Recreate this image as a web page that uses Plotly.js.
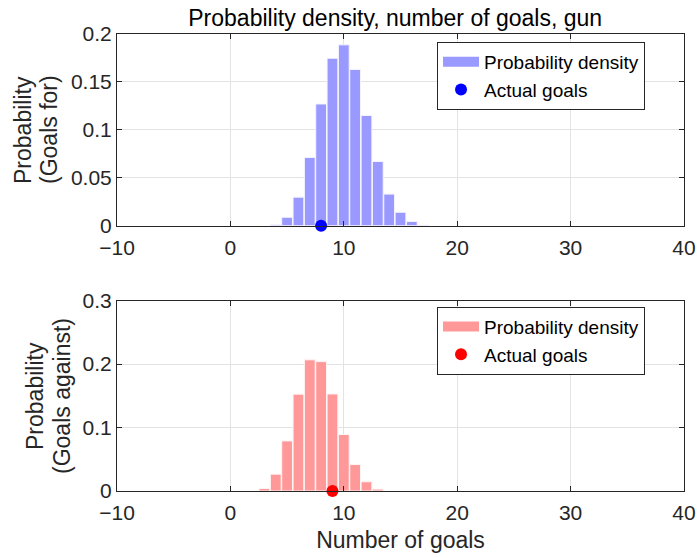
<!DOCTYPE html>
<html>
<head>
<meta charset="utf-8">
<script src="https://cdn.plot.ly/plotly-3.0.1.min.js"></script>
<style>html,body{margin:0;padding:0;background:#fff;}</style>
</head>
<body>
<div id="chart" style="width:697px;height:558px;"></div>
<script>
// Data
const goalsFor = [4, 5, 6, 7, 8, 9, 10, 11, 12, 13, 14, 15, 16, 17];
const probFor = [0.001, 0.0088, 0.0298, 0.0712, 0.127, 0.1747, 0.1887, 0.163, 0.115, 0.067, 0.033, 0.014, 0.0045, 0.0005];
const actualFor = [8];
const goalsAgainst = [3, 4, 5, 6, 7, 8, 9, 10, 11, 12, 13];
const probAgainst = [0.004, 0.0266, 0.079, 0.1527, 0.2068, 0.204, 0.153, 0.089, 0.0417, 0.0146, 0.003];
const actualAgainst = [9];
const xTicks = [-10, 0, 10, 20, 30, 40];
const legendLabels = ['Probability density', 'Actual goals'];

const FONT = 'Liberation Sans, Arial, sans-serif';
const TXT = '#262626';
const BLUE_BAR = '#9999ff', RED_BAR = '#ff9999';

const traces = [
  {type: 'bar', x: goalsFor, y: probFor, xaxis: 'x', yaxis: 'y', name: legendLabels[0],
   marker: {color: BLUE_BAR, line: {color: '#f4f4ff', width: 1}}, width: 0.95, showlegend: false},
  // legend proxy (wide swatch like the reference)
  {type: 'scatter', mode: 'lines', x: [null], y: [null], xaxis: 'x', yaxis: 'y', name: legendLabels[0],
   line: {color: BLUE_BAR, width: 14}, legend: 'legend'},
  {type: 'scatter', mode: 'markers', x: actualFor, y: [0], xaxis: 'x', yaxis: 'y', name: legendLabels[1],
   marker: {color: '#0000ff', size: 12}, cliponaxis: false, legend: 'legend'},
  {type: 'bar', x: goalsAgainst, y: probAgainst, xaxis: 'x2', yaxis: 'y2', name: legendLabels[0],
   marker: {color: RED_BAR, line: {color: '#fff4f4', width: 1}}, width: 0.95, showlegend: false},
  {type: 'scatter', mode: 'lines', x: [null], y: [null], xaxis: 'x2', yaxis: 'y2', name: legendLabels[0],
   line: {color: RED_BAR, width: 14}, legend: 'legend2'},
  {type: 'scatter', mode: 'markers', x: actualAgainst, y: [0], xaxis: 'x2', yaxis: 'y2', name: legendLabels[1],
   marker: {color: '#ff0000', size: 12}, cliponaxis: false, legend: 'legend2'}
];

const axBase = {
  showline: true, linecolor: TXT, linewidth: 1, mirror: 'ticks',
  ticks: 'inside', ticklen: 5, tickcolor: TXT,
  showgrid: true, gridcolor: '#e3e3e3', zeroline: false,
  tickfont: {family: FONT, size: 21, color: TXT}
};

const legBase = {xanchor: 'left', yanchor: 'top', bordercolor: TXT, borderwidth: 1,
  bgcolor: '#fff', font: {family: FONT, size: 19, color: '#000'}, tracegroupgap: 0, itemwidth: 36};

const ytitle = (txt, xpx, ypaper) => ({
  text: txt, xref: 'paper', yref: 'paper', x: (xpx - 117) / 567, y: ypaper,
  xanchor: 'center', yanchor: 'middle', textangle: -90, showarrow: false,
  font: {family: FONT, size: 23, color: TXT}
});

const layout = {
  width: 697, height: 558,
  margin: {l: 117, r: 13, t: 34, b: 67},
  paper_bgcolor: '#fff', plot_bgcolor: '#fff',
  font: {family: FONT, color: TXT},
  showlegend: true,
  bargap: 0,
  title: {text: 'Probability density, number of goals, gun', font: {family: FONT, size: 23, color: '#000'},
          x: 0.567, xanchor: 'center', y: 1 - 18 / 558, yanchor: 'middle'},
  xaxis: Object.assign({}, axBase, {domain: [0, 1], anchor: 'y', range: [-10, 40], tickvals: xTicks, ticklabelstandoff: 3}),
  yaxis: Object.assign({}, axBase, {domain: [0.5805, 1], anchor: 'x', range: [0, 0.2], dtick: 0.05}),
  xaxis2: Object.assign({}, axBase, {domain: [0, 1], anchor: 'y2', range: [-10, 40], tickvals: xTicks, ticklabelstandoff: 3,
    title: {text: 'Number of goals', font: {family: FONT, size: 23, color: TXT}, standoff: 8}}),
  yaxis2: Object.assign({}, axBase, {domain: [0, 0.4164], anchor: 'x2', range: [0, 0.3], dtick: 0.1}),
  annotations: [
    ytitle('Probability', 23, 0.790),
    ytitle('(Goals for)', 49, 0.790),
    ytitle('Probability', 35, 0.2079),
    ytitle('(Goals against)', 62, 0.2079)
  ],
  legend: Object.assign({}, legBase, {x: 0.5644, y: 0.9825}),
  legend2: Object.assign({}, legBase, {x: 0.5644, y: 0.4033})
};

Plotly.newPlot('chart', traces, layout, {displayModeBar: false, staticPlot: true});
</script>
</body>
</html>
